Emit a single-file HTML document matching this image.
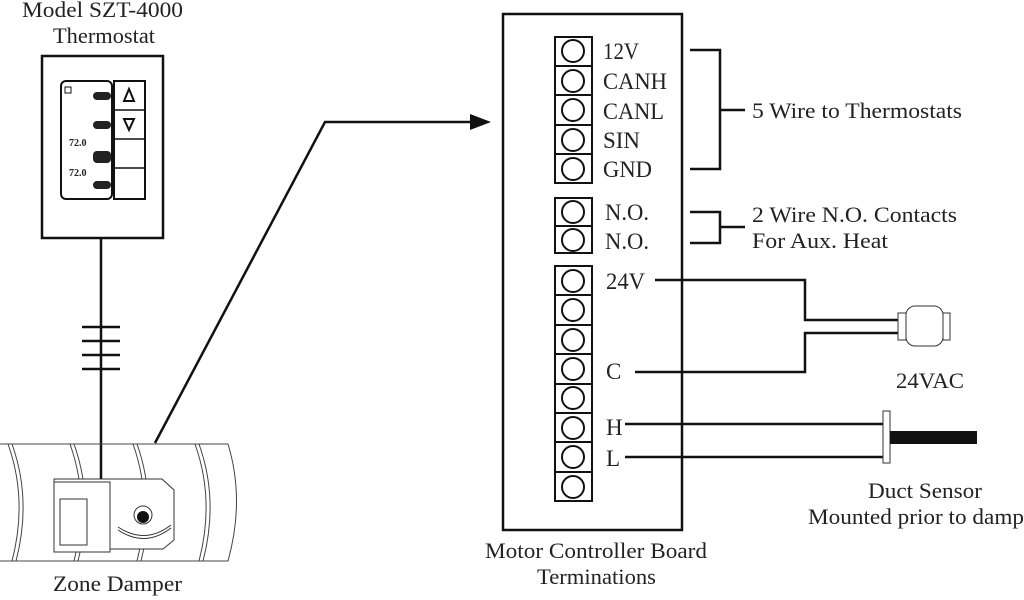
<!DOCTYPE html>
<html><head><meta charset="utf-8"><style>
html,body{margin:0;padding:0;background:#fff;}
svg{display:block;}
text{font-family:"Liberation Serif",serif;fill:#222;}
</style></head><body>
<svg width="1024" height="600" viewBox="0 0 1024 600" xmlns="http://www.w3.org/2000/svg">
<!-- Thermostat -->
<text x="22" y="17" font-size="22" textLength="161" lengthAdjust="spacingAndGlyphs">Model SZT-4000</text>
<text x="53" y="43" font-size="22" textLength="102" lengthAdjust="spacingAndGlyphs">Thermostat</text>
<rect x="42" y="56" width="121" height="182" fill="#fff" stroke="#111" stroke-width="2.5"/>
<rect x="61" y="81" width="51" height="118" rx="5" fill="#fff" stroke="#111" stroke-width="2"/>
<rect x="114" y="81" width="31" height="118" fill="#fff" stroke="#111" stroke-width="2"/>
<line x1="114" y1="110" x2="145" y2="110" stroke="#111" stroke-width="1.5"/>
<line x1="114" y1="139" x2="145" y2="139" stroke="#111" stroke-width="1.5"/>
<line x1="114" y1="168" x2="145" y2="168" stroke="#111" stroke-width="1.5"/>
<polygon points="129,89 124,101 134,101" fill="none" stroke="#111" stroke-width="2"/>
<polygon points="124,119 134,119 129,130" fill="none" stroke="#111" stroke-width="2"/>
<rect x="65" y="87" width="6" height="6" fill="none" stroke="#111" stroke-width="1"/>
<rect x="93" y="92" width="18" height="8" rx="4" fill="#222"/>
<rect x="93" y="121" width="18" height="8" rx="4" fill="#222"/>
<rect x="93" y="151" width="18" height="12" rx="4" fill="#222"/>
<rect x="93" y="181" width="18" height="8" rx="4" fill="#222"/>
<text x="69" y="146" font-size="10" font-family="Liberation Sans" font-weight="bold">72.0</text>
<text x="69" y="176" font-size="10" font-family="Liberation Sans" font-weight="bold">72.0</text>
<!-- wire -->
<line x1="101" y1="238" x2="101" y2="482" stroke="#111" stroke-width="2.5"/>
<g stroke="#111" stroke-width="2.5">
<line x1="82" y1="327" x2="120" y2="327"/><line x1="82" y1="341" x2="120" y2="341"/>
<line x1="82" y1="355" x2="120" y2="355"/><line x1="82" y1="369" x2="120" y2="369"/>
</g>
<!-- Duct -->
<g fill="none" stroke="#444" stroke-width="1">
<path d="M0 444 L228 444 Q245 500 228 561 L0 561"/>
<path d="M8 444 Q28 500 12 561"/><path d="M12 444 Q32 500 16 561"/>
<path d="M70 444 Q90 500 74 561"/><path d="M74 444 Q94 500 78 561"/>
<path d="M133 444 Q153 500 137 561"/><path d="M137 444 Q157 500 141 561"/>
<path d="M195 444 Q215 500 199 561"/><path d="M199 444 Q219 500 203 561"/>
</g>
<polygon points="54,479 162,479 174,490 174,540 163,549 110,549 110,552 54,552" fill="#fff" stroke="#333" stroke-width="1"/>
<rect x="54" y="482" width="56" height="70" fill="#fff" stroke="#333" stroke-width="1"/>
<rect x="60" y="499" width="27" height="46" fill="#fff" stroke="#333" stroke-width="1"/>
<circle cx="143" cy="515" r="9" fill="#fff" stroke="#333"/>
<circle cx="143" cy="517" r="6" fill="#111"/>
<path d="M118 527 Q145 545 171 525" fill="none" stroke="#333" stroke-width="1"/>
<path d="M118 530 Q145 548 171 528" fill="none" stroke="#333" stroke-width="1"/>
<text x="53" y="591" font-size="22" textLength="129" lengthAdjust="spacingAndGlyphs">Zone Damper</text>
<!-- Arrow connector -->
<polyline points="155,443 325,122 472,122" fill="none" stroke="#111" stroke-width="2.5"/>
<polygon points="491,122 470,114 470,130" fill="#111"/>
<!-- Board -->
<rect x="503" y="14" width="179" height="516" fill="none" stroke="#111" stroke-width="2.5"/>
<g fill="#fff" stroke="#111" stroke-width="2">
<rect x="555" y="37" width="37" height="146"/>
<rect x="555" y="198" width="37" height="55"/>
<rect x="555" y="266" width="37" height="235"/>
</g>
<g stroke="#111" stroke-width="2">
<line x1="555" y1="66" x2="592" y2="66"/><line x1="555" y1="95" x2="592" y2="95"/>
<line x1="555" y1="125" x2="592" y2="125"/><line x1="555" y1="154" x2="592" y2="154"/>
<line x1="555" y1="226" x2="592" y2="226"/>
<line x1="555" y1="295" x2="592" y2="295"/><line x1="555" y1="325" x2="592" y2="325"/>
<line x1="555" y1="354" x2="592" y2="354"/><line x1="555" y1="384" x2="592" y2="384"/>
<line x1="555" y1="413" x2="592" y2="413"/><line x1="555" y1="442" x2="592" y2="442"/>
<line x1="555" y1="472" x2="592" y2="472"/>
</g>
<g fill="none" stroke="#111" stroke-width="2">
<circle cx="573" cy="51" r="11"/><circle cx="573" cy="81" r="11"/><circle cx="573" cy="110" r="11"/>
<circle cx="573" cy="140" r="11"/><circle cx="573" cy="169" r="11"/>
<circle cx="573" cy="212" r="11"/><circle cx="573" cy="240" r="11"/>
<circle cx="573" cy="281" r="11"/><circle cx="573" cy="310" r="11"/><circle cx="573" cy="340" r="11"/>
<circle cx="573" cy="369" r="11"/><circle cx="573" cy="398" r="11"/><circle cx="573" cy="428" r="11"/>
<circle cx="573" cy="457" r="11"/><circle cx="573" cy="487" r="11"/>
</g>
<g font-size="23">
<text x="603" y="59" textLength="36" lengthAdjust="spacingAndGlyphs">12V</text>
<text x="603" y="89" textLength="64" lengthAdjust="spacingAndGlyphs">CANH</text>
<text x="603" y="119" textLength="61" lengthAdjust="spacingAndGlyphs">CANL</text>
<text x="603" y="148" textLength="37" lengthAdjust="spacingAndGlyphs">SIN</text>
<text x="603" y="177" textLength="49" lengthAdjust="spacingAndGlyphs">GND</text>
<text x="605" y="220" textLength="44" lengthAdjust="spacingAndGlyphs">N.O.</text>
<text x="605" y="249" textLength="44" lengthAdjust="spacingAndGlyphs">N.O.</text>
<text x="606" y="289" textLength="39" lengthAdjust="spacingAndGlyphs">24V</text>
<text x="606" y="379">C</text>
<text x="606" y="435">H</text><text x="606" y="466">L</text>
</g>
<text x="485" y="558" font-size="22" textLength="222" lengthAdjust="spacingAndGlyphs">Motor Controller Board</text>
<text x="537" y="584" font-size="22" textLength="119" lengthAdjust="spacingAndGlyphs">Terminations</text>
<!-- brackets -->
<g fill="none" stroke="#111" stroke-width="2.5">
<polyline points="690,50 720,50 720,169 690,169"/><line x1="720" y1="110" x2="745" y2="110"/>
<polyline points="690,212 720,212 720,243 690,243"/><line x1="720" y1="227" x2="745" y2="227"/>
</g>
<text x="752" y="118" font-size="22" textLength="210" lengthAdjust="spacingAndGlyphs">5 Wire to Thermostats</text>
<text x="752" y="222" font-size="22" textLength="205" lengthAdjust="spacingAndGlyphs">2 Wire N.O. Contacts</text>
<text x="752" y="248" font-size="22" textLength="136" lengthAdjust="spacingAndGlyphs">For Aux. Heat</text>
<!-- 24VAC -->
<g fill="none" stroke="#111" stroke-width="2.5">
<polyline points="655,280 805,280 805,320 898,320"/>
<polyline points="635,372 805,372 805,333 898,333"/>
<line x1="625" y1="424" x2="883" y2="424"/>
<line x1="625" y1="457" x2="883" y2="457"/>
</g>
<rect x="898" y="313" width="8" height="27" fill="#fff" stroke="#333" stroke-width="1"/>
<rect x="906" y="306" width="37" height="40" rx="9" fill="#fff" stroke="#333" stroke-width="1"/>
<rect x="943" y="313" width="7" height="27" fill="#fff" stroke="#333" stroke-width="1"/>
<text x="896" y="388" font-size="22" textLength="68" lengthAdjust="spacingAndGlyphs">24VAC</text>
<rect x="883" y="411" width="7" height="52" fill="#fff" stroke="#333" stroke-width="1"/>
<rect x="890" y="431" width="87" height="13" fill="#111"/>
<text x="868" y="498" font-size="22" textLength="114" lengthAdjust="spacingAndGlyphs">Duct Sensor</text>
<text x="808" y="524" font-size="22" textLength="216" lengthAdjust="spacingAndGlyphs">Mounted prior to damp</text>
</svg>
</body></html>
